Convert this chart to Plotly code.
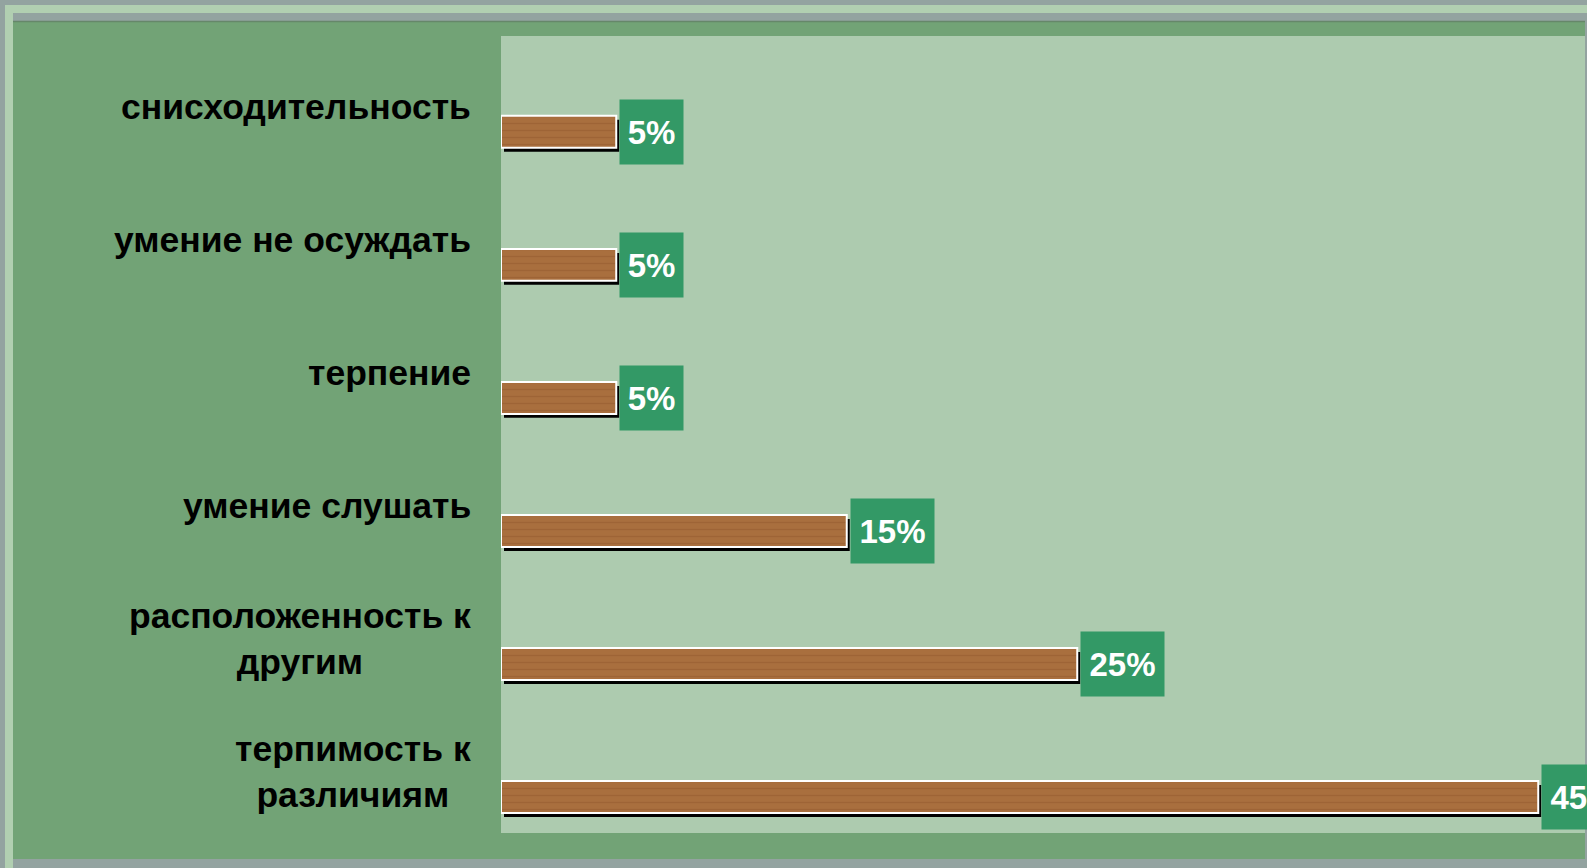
import plotly.graph_objects as go

categories = [
    "снисходительность",
    "умение не осуждать",
    "терпение",
    "умение слушать",
    "расположенность к<br>другим",
    "терпимость к<br>различиям",
]
values = [5, 5, 5, 15, 25, 45]
value_labels = ["5%", "5%", "5%", "15%", "25%", "45%"]

W, H = 1587, 868
L, T, R, B = 501, 36, 0, 35
PW, PH = W - L - R, H - T - B


def px(x):
    return (x - L) / PW


def py(y):
    return (H - B - y) / PH


def rect(x0, y0, x1, y1, color):
    return dict(type="rect", xref="paper", yref="paper", layer="below",
                x0=px(x0), x1=px(x1), y0=py(y1), y1=py(y0),
                fillcolor=color, line=dict(width=0))


GRAY = "#93a3a0"
LIGHT = "#b1cfb1"
PANEL = "#72a376"
PLOT_BG = "#adcbaf"
BOX = "#339966"
WOOD = "#a96f3e"

fig = go.Figure()

# shadow under the bars
fig.add_trace(go.Bar(
    y=categories, x=values, base=0.13, orientation="h",
    width=0.24, offset=-0.09,
    marker=dict(color="black", line=dict(width=0)),
    hoverinfo="skip", showlegend=False,
))
fig.add_trace(go.Bar(
    y=categories, x=values, orientation="h",
    width=0.24, offset=-0.12,
    marker=dict(color=WOOD, line=dict(color="white", width=2),
                pattern=dict(shape="-", fgcolor="#93592e", bgcolor=WOOD,
                             size=7, solidity=0.2)),
    showlegend=False,
))

annotations = []
for cat, v, lab in zip(categories, values, value_labels):
    annotations.append(dict(
        x=v, y=cat, xref="x", yref="y", text=lab, showarrow=False,
        xanchor="left", yanchor="middle", xshift=3,
        width=20 * len(lab) + 15, height=56, borderpad=4, bgcolor=BOX,
        font=dict(family="Liberation Sans, Arial", size=33, color="white",
                  weight="bold"),
    ))
    annotations.append(dict(
        x=0, y=cat, xref="paper", yref="y", text=cat, showarrow=False,
        xanchor="right", yanchor="middle", xshift=-28, yshift=25,
        align="center",
        font=dict(family="Liberation Sans, Arial", size=35.5, color="black",
                  weight="bold"),
    ))

shapes = [
    rect(5, 5, W + 5, H + 5, LIGHT),
    rect(13, 13, W + 5, H + 5, GRAY),
    rect(13, 21, 1585, 859, PANEL),
    dict(type="line", xref="paper", yref="paper", layer="below",
         x0=px(13), x1=px(1585), y0=py(21.5), y1=py(21.5),
         line=dict(color="#66876a", width=1.5)),
    rect(501, 36, 1585, 833, PLOT_BG),
]

fig.update_layout(
    width=W, height=H,
    margin=dict(l=L, r=R, t=T, b=B),
    paper_bgcolor=GRAY,
    plot_bgcolor="rgba(0,0,0,0)",
    barmode="overlay",
    shapes=shapes,
    annotations=annotations,
    xaxis=dict(range=[0, PW / 23.05], visible=False, fixedrange=True),
    yaxis=dict(type="category", categoryarray=categories,
               range=[5.27, -0.72], visible=False, fixedrange=True),
)

fig.write_html(
    "out.html",
    config={"displayModeBar": False},
    post_script="document.body.style.margin='0';document.body.style.overflow='hidden';",
)
